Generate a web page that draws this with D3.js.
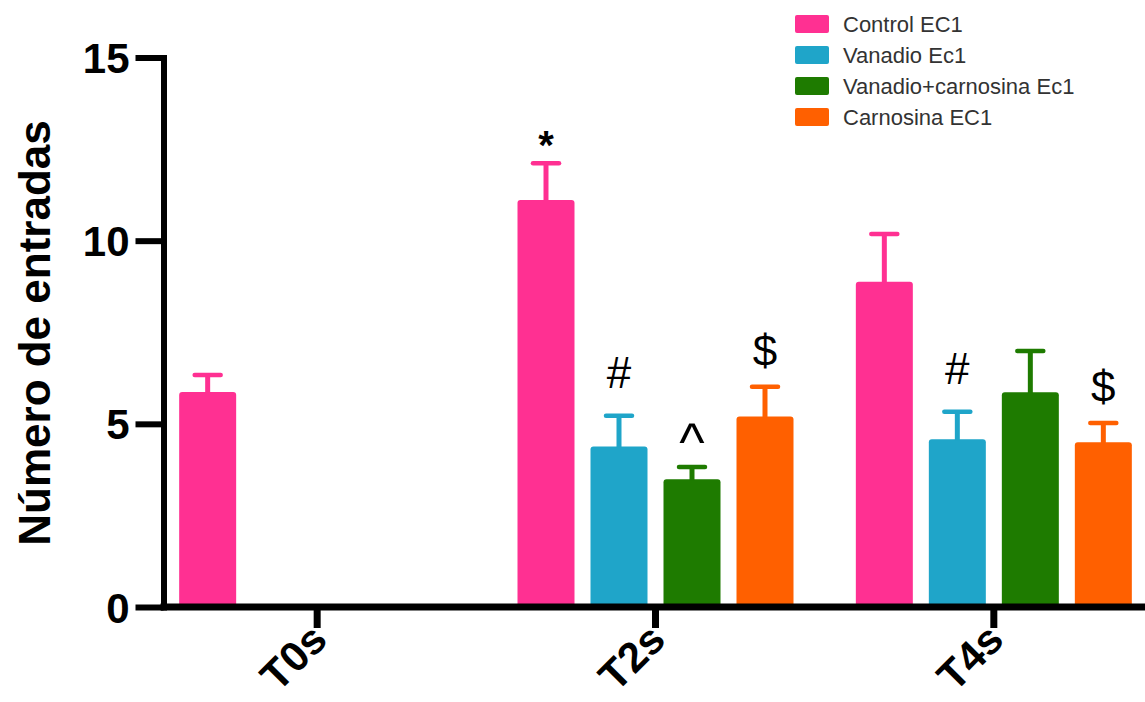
<!DOCTYPE html>
<html>
<head>
<meta charset="utf-8">
<script src="https://cdn.jsdelivr.net/npm/d3@7"></script>
<style>
  html, body { margin: 0; padding: 0; background: #fff; }
  svg { display: block; }
  text { font-family: "Liberation Sans", Arial, Helvetica, sans-serif; }
</style>
</head>
<body>
<svg id="chart" width="1145" height="702"></svg>
<script>
// Time points and groups
const times = ["T0s", "T2s", "T4s"];
const seriesNames = ["Control EC1", "Vanadio Ec1", "Vanadio+carnosina Ec1", "Carnosina EC1"];
const seriesColors = ["#ff3092", "#1fa5c9", "#1e7b00", "#ff6000"];

// Means (number of entries) per time point; null = not measured
const controlMean  = [5.87, 11.11, 8.88];
const vanadioMean  = [null, 4.38, 4.58];
const vanCarMean   = [null, 3.49, 5.86];
const carnosinaMean = [null, 5.20, 4.50];

// Upper error (SEM) per time point
const controlErr   = [0.46, 1.00, 1.30];
const vanadioErr   = [null, 0.84, 0.75];
const vanCarErr    = [null, 0.33, 1.13];
const carnosinaErr = [null, 0.81, 0.52];

// Significance marks
const controlMark   = [null, "*", null];
const vanadioMark   = [null, "#", "#"];
const vanCarMark    = [null, "^", null];
const carnosinaMark = [null, "$", "$"];

const yTicks = [0, 5, 10, 15];

const means = [controlMean, vanadioMean, vanCarMean, carnosinaMean];
const errs  = [controlErr, vanadioErr, vanCarErr, carnosinaErr];
const marks = [controlMark, vanadioMark, vanCarMark, carnosinaMark];

const rows = [];
times.forEach((t, ti) => {
  seriesNames.forEach((s, si) => {
    if (means[si][ti] != null) {
      rows.push({ time: t, series: s, color: seriesColors[si],
                  mean: means[si][ti], err: errs[si][ti], mark: marks[si][ti] });
    }
  });
});

const svg = d3.select("#chart");
const W = 1145;

const y = d3.scaleLinear().domain([0, 15]).range([607, 57.5]);
const x0 = d3.scaleBand().domain(times).range([148, 1163]).padding(0);
const groupHalf = 146;
const x1 = d3.scaleBand().domain(seriesNames)
  .range([-groupHalf, groupHalf]).paddingInner(16 / 73).paddingOuter(8 / 73);
const cx = d => x0(d.time) + x0.bandwidth() / 2;

// Bars (extend slightly below the baseline so rounded bottom corners hide under the axis)
svg.append("g").selectAll("rect").data(rows).join("rect")
  .attr("x", d => cx(d) + x1(d.series))
  .attr("y", d => y(d.mean))
  .attr("width", x1.bandwidth())
  .attr("height", d => y(0) - y(d.mean) + 3)
  .attr("rx", 3)
  .attr("fill", d => d.color);

// Error bars
const eb = svg.append("g").selectAll("g").data(rows).join("g")
  .attr("transform", d => `translate(${cx(d) + x1(d.series) + x1.bandwidth() / 2},0)`);
eb.append("line")
  .attr("x1", 0).attr("x2", 0)
  .attr("y1", d => y(d.mean) + 1)
  .attr("y2", d => y(d.mean + d.err))
  .attr("stroke", d => d.color).attr("stroke-width", 5);
eb.append("line")
  .attr("x1", -13).attr("x2", 13)
  .attr("y1", d => y(d.mean + d.err))
  .attr("y2", d => y(d.mean + d.err))
  .attr("stroke", d => d.color).attr("stroke-width", 4.5)
  .attr("stroke-linecap", "round");

// Significance symbols above the error caps
const markOffset = { "*": 4, "#": 28, "^": 6, "$": 21 };
const markSize = { "*": 40, "#": 44, "^": 54, "$": 44 };
eb.filter(d => d.mark).append("text")
  .attr("x", 0)
  .attr("y", d => y(d.mean + d.err) - markOffset[d.mark])
  .attr("text-anchor", "middle")
  .attr("font-size", d => markSize[d.mark])
  .attr("font-weight", d => d.mark === "*" ? "bold" : "normal")
  .attr("fill", "#000")
  .text(d => d.mark);

// Y axis
const yAxis = svg.append("g")
  .attr("transform", "translate(163.5,0)")
  .call(d3.axisLeft(y).tickValues(yTicks).tickSize(28).tickSizeOuter(0).tickPadding(6));
yAxis.select(".domain").attr("stroke", "#000").attr("stroke-width", 6).attr("stroke-linecap", "square");
yAxis.selectAll(".tick line").attr("stroke", "#000").attr("stroke-width", 6);
yAxis.selectAll(".tick text")
  .attr("font-size", 42).attr("font-weight", "bold").attr("fill", "#000")
  .attr("font-family", "'Liberation Sans', Arial, sans-serif")
  .attr("dy", "0.36em");

// X axis
const xAxis = svg.append("g")
  .attr("transform", `translate(0,${y(0)})`)
  .call(d3.axisBottom(x0).tickSize(21).tickSizeOuter(0).tickPadding(12));
xAxis.select(".domain").remove();
xAxis.selectAll(".tick line").attr("stroke", "#000").attr("stroke-width", 7).attr("y1", 3);
xAxis.selectAll(".tick text")
  .attr("font-size", 42).attr("font-weight", "bold").attr("fill", "#000")
  .attr("font-family", "'Liberation Sans', Arial, sans-serif")
  .attr("text-anchor", "end")
  .attr("dy", "0")
  .attr("transform", "translate(12,35) rotate(-45)")
  .attr("y", 0).attr("x", 0);
svg.append("line")
  .attr("x1", 160.5).attr("x2", W)
  .attr("y1", y(0)).attr("y2", y(0))
  .attr("stroke", "#000").attr("stroke-width", 7);

// Y axis title
svg.append("text")
  .attr("transform", `translate(50,${(118 + 548) / 2}) rotate(-90)`)
  .attr("text-anchor", "middle")
  .attr("font-size", 44).attr("font-weight", "bold").attr("fill", "#000")
  .text("Número de entradas");

// Legend
const legend = svg.append("g").attr("transform", "translate(795,15)");
const li = legend.selectAll("g").data(seriesNames).join("g")
  .attr("transform", (d, i) => `translate(0,${i * 31})`);
li.append("rect")
  .attr("width", 34).attr("height", 18).attr("rx", 2)
  .attr("fill", (d, i) => seriesColors[i]);
li.append("text")
  .attr("x", 48).attr("y", 9).attr("dy", "0.36em")
  .attr("font-size", 22).attr("fill", "#333")
  .text(d => d);
</script>
</body>
</html>
